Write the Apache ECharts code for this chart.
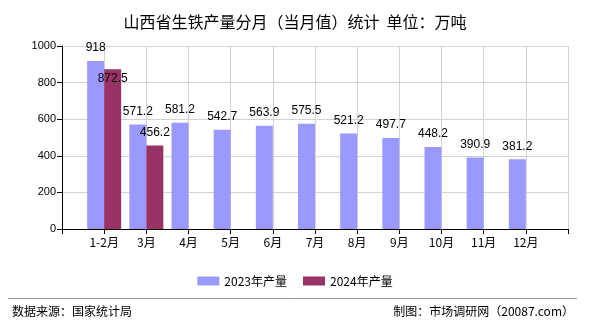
<!DOCTYPE html>
<html>
<head>
<meta charset="utf-8">
<script src="https://cdn.jsdelivr.net/npm/echarts@6/dist/echarts.min.js"></script>
<style>
html,body{margin:0;padding:0;background:#fff;}
#chart{width:590px;height:330px;}
</style>
</head>
<body>
<div id="chart"></div>
<script>
// Monthly pig-iron output of Shanxi (万吨)
const months = ['1-2月','3月','4月','5月','6月','7月','8月','9月','10月','11月','12月'];
const output2023 = [918, 571.2, 581.2, 542.7, 563.9, 575.5, 521.2, 497.7, 448.2, 390.9, 381.2];
const output2024 = [872.5, 456.2];
const yTicks = [0, 200, 400, 600, 800, 1000];

// blank slots at both ends so the month ticks sit inside the axis
const axisCats = [''].concat(months, ['']);
const pad = (arr) => [null].concat(months.map((_, i) => (i < arr.length ? arr[i] : null)), [null]);

const numFont = '"Liberation Sans", Arial, sans-serif';
const cjkFont = '"Noto Sans CJK SC", sans-serif';

const data2024 = pad(output2024).map((v, i) =>
  i === 1 ? { value: v, label: { offset: [0, 22] } } : v);

const chart = echarts.init(document.getElementById('chart'), null, { renderer: 'canvas' });
chart.setOption({
  animation: false,
  backgroundColor: '#fff',
  title: {
    text: '山西省生铁产量分月（当月值）统计  单位：万吨',
    left: 'center',
    top: 9,
    textStyle: { fontFamily: cjkFont, fontSize: 16, fontWeight: 'normal', color: '#000' }
  },
  legend: {
    top: 270,
    left: 'center',
    itemWidth: 22,
    itemHeight: 9,
    itemGap: 16,
    icon: 'rect',
    textStyle: { fontFamily: cjkFont, fontSize: 12, color: '#000' },
    data: ['2023年产量', '2024年产量']
  },
  grid: { left: 62, right: 22, top: 46, bottom: 101, containLabel: false },
  xAxis: {
    type: 'category',
    data: axisCats,
    boundaryGap: false,
    axisLine: { lineStyle: { color: '#000', width: 1 } },
    axisTick: { show: true, length: 5, lineStyle: { color: '#000' }, interval: 0 },
    axisLabel: { interval: 0, margin: 7, fontFamily: cjkFont, fontSize: 12, color: '#000' },
    splitLine: { show: true, interval: 0, lineStyle: { color: '#d3d3d3', width: 1 } }
  },
  yAxis: {
    type: 'value',
    min: yTicks[0],
    max: yTicks[yTicks.length - 1],
    interval: 200,
    axisLine: { show: true, lineStyle: { color: '#000', width: 1 } },
    axisTick: { show: true, length: 5, lineStyle: { color: '#000' } },
    axisLabel: { margin: 6, fontFamily: numFont, fontSize: 11, color: '#000', formatter: (v) => String(v) },
    splitLine: { show: true, lineStyle: { color: '#d3d3d3', width: 1 } }
  },
  series: [
    {
      name: '2023年产量',
      type: 'bar',
      data: pad(output2023),
      barWidth: 17,
      barGap: '0%',
      itemStyle: { color: '#9999ff' },
      label: { show: true, position: 'top', distance: 7, fontFamily: numFont, fontSize: 12, color: '#000' }
    },
    {
      name: '2024年产量',
      type: 'bar',
      data: data2024,
      barWidth: 17,
      barGap: '0%',
      itemStyle: { color: '#993366' },
      label: { show: true, position: 'top', distance: 7, fontFamily: numFont, fontSize: 12, color: '#000' }
    }
  ],
  graphic: [
    { type: 'line', shape: { x1: 8, y1: 298.5, x2: 577, y2: 298.5 }, style: { stroke: '#999', lineWidth: 1 } },
    { type: 'text', left: 12, top: 305, style: { text: '数据来源：国家统计局', font: '12px ' + cjkFont, fill: '#000' } },
    { type: 'text', right: 16, top: 305, style: { text: '制图：市场调研网（20087.com）', font: '12px ' + cjkFont, fill: '#000' } }
  ]
});
</script>
</body>
</html>
